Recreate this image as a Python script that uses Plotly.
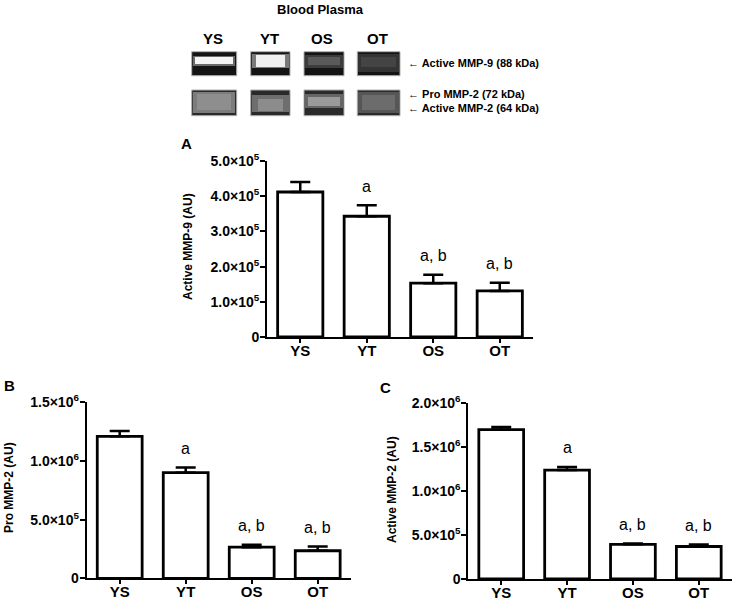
import plotly.graph_objects as go

W, H = 737, 601

groups = ["YS", "YT", "OS", "OT"]

# panel A - active MMP-9
mmp9_mean = [4.12e5, 3.43e5, 1.53e5, 1.31e5]
mmp9_sem = [0.28e5, 0.31e5, 0.24e5, 0.23e5]
# panel B - pro MMP-2
pro2_mean = [1.21e6, 0.90e6, 0.265e6, 0.235e6]
pro2_sem = [0.045e6, 0.045e6, 0.02e6, 0.037e6]
# panel C - active MMP-2
act2_mean = [1.70e6, 1.24e6, 0.395e6, 0.37e6]
act2_sem = [0.03e6, 0.035e6, 0.01e6, 0.022e6]

sig_labels = ["", "a", "a, b", "a, b"]

A_tickvals = [0, 1e5, 2e5, 3e5, 4e5, 5e5]
A_ticktext = ["0", "1.0×10<sup>5</sup>", "2.0×10<sup>5</sup>", "3.0×10<sup>5</sup>",
              "4.0×10<sup>5</sup>", "5.0×10<sup>5</sup>"]
B_tickvals = [0, 5e5, 1e6, 1.5e6]
B_ticktext = ["0", "5.0×10<sup>5</sup>", "1.0×10<sup>6</sup>", "1.5×10<sup>6</sup>"]
C_tickvals = [0, 5e5, 1e6, 1.5e6, 2e6]
C_ticktext = ["0", "5.0×10<sup>5</sup>", "1.0×10<sup>6</sup>", "1.5×10<sup>6</sup>",
              "2.0×10<sup>6</sup>"]

FONT = "Liberation Sans, Arial, sans-serif"


def px_x(p):
    return p / W


def px_y(p):
    return 1 - p / H


fig = go.Figure()

panels = [
    ("x", "y", mmp9_mean, mmp9_sem),
    ("x2", "y2", pro2_mean, pro2_sem),
    ("x3", "y3", act2_mean, act2_sem),
]

annotations = []
for xa, ya, mean, sem in panels:
    fig.add_trace(go.Bar(
        x=groups, y=mean, xaxis=xa, yaxis=ya, width=0.68,
        marker=dict(color="white", line=dict(color="black", width=2.8)),
        error_y=dict(type="data", array=sem, arrayminus=[0] * len(sem), symmetric=False,
                     color="black", thickness=2.5, width=10),
        showlegend=False,
    ))
    for g, m, s, lab in zip(groups, mean, sem, sig_labels):
        if lab:
            annotations.append(dict(x=g, y=m + s, xref=xa, yref=ya, text=lab, showarrow=False,
                                    yanchor="middle", yshift=19,
                                    font=dict(family=FONT, size=16, color="black")))


def yaxis_style(domain, rng, tv, tt):
    return dict(domain=domain, range=rng, tickvals=tv, ticktext=["<b>%s</b>" % t for t in tt],
                showline=True, linewidth=2, linecolor="black", ticks="outside", ticklen=5,
                tickwidth=2, tickcolor="black", showgrid=False, zeroline=False, automargin=False,
                ticklabelstandoff=-2,
                tickfont=dict(family=FONT, size=14, color="black"), fixedrange=True)


def xaxis_style(domain, anchor):
    return dict(domain=domain, anchor=anchor, range=[-0.5, 3.5], showline=True, linewidth=2,
                linecolor="black", ticks="outside", ticklen=4, tickwidth=1.5, tickcolor="black",
                showgrid=False, tickfont=dict(family=FONT, size=15, color="black"),
                ticklabelstandoff=-5, automargin=False, fixedrange=True,
                tickvals=groups, ticktext=["<b>%s</b>" % g for g in groups])


fig.update_layout(
    template="simple_white",
    width=W, height=H, margin=dict(l=0, r=0, t=0, b=0, pad=0, autoexpand=False),
    plot_bgcolor="white", paper_bgcolor="white",
    font=dict(family=FONT, color="black"),
    xaxis=xaxis_style([px_x(267), px_x(533)], "y"),
    yaxis=dict(anchor="x", **yaxis_style([px_y(337), px_y(161)], [0, 5e5], A_tickvals, A_ticktext)),
    xaxis2=xaxis_style([px_x(86.7), px_x(350.7)], "y2"),
    yaxis2=dict(anchor="x2", **yaxis_style([px_y(578.3), px_y(402.3)], [0, 1.5e6], B_tickvals, B_ticktext)),
    xaxis3=xaxis_style([px_x(468.3), px_x(731.7)], "y3"),
    yaxis3=dict(anchor="x3", **yaxis_style([px_y(579), px_y(403.3)], [0, 2e6], C_tickvals, C_ticktext)),
)


def txt(x, y, s, size, bold=True, angle=0, xanchor="center"):
    annotations.append(dict(x=px_x(x), y=px_y(y), xref="paper", yref="paper",
                            text="<b>%s</b>" % s if bold else s, showarrow=False,
                            textangle=angle, xanchor=xanchor, yanchor="middle",
                            font=dict(family=FONT, size=size, color="black")))


# axis titles and panel letters
txt(188, 247, "Active MMP-9 (AU)", 12, angle=-90)
txt(9, 488, "Pro MMP-2 (AU)", 12, angle=-90)
txt(392, 490, "Active MMP-2 (AU)", 12, angle=-90)
txt(186, 143, "A", 15)
txt(9, 385, "B", 15)
txt(386, 387, "C", 15)

# zymography header
txt(320, 10, "Blood Plasma", 13)
for g, cx in zip(groups, [213, 269, 322, 377]):
    txt(cx, 39, g, 15)
txt(406, 63, "← Active MMP-9 (88 kDa)", 11, xanchor="left")
txt(406, 94, "← Pro MMP-2 (72 kDa)", 11, xanchor="left")
txt(406, 108, "← Active MMP-2 (64 kDa)", 11, xanchor="left")

# gel lane pictures (decorative)
shapes = []


def rect(x0, y0, x1, y1, fill, line=None, opacity=1.0):
    shapes.append(dict(type="rect", xref="paper", yref="paper",
                       x0=px_x(x0), x1=px_x(x1), y0=px_y(y1), y1=px_y(y0),
                       fillcolor=fill, opacity=opacity,
                       line=dict(color=line or fill, width=1 if line else 0)))


lanes = [(191.7, 236.7), (250.7, 290), (304, 344), (357.3, 400)]
for x0, x1 in lanes:
    rect(x0, 51.7, x1, 75.7, "#141414", "#b0b0b0")
    rect(x0, 90, x1, 115.7, "#2a2a2a", "#b0b0b0")

# row 1 bands (active MMP-9)
rect(193, 56, 235, 66, "#6a6a6a")
rect(195, 57, 233, 64, "#f4f4f4")
rect(252, 54, 289, 68, "#7a7a7a")
rect(256, 55, 285, 67, "#f0f0f0")
rect(305, 55, 343, 68, "#3c3c3c")
rect(308, 57, 340, 65, "#5a5a5a")
rect(358, 54, 399, 72, "#343434")
rect(361, 57, 396, 67, "#444444")
# row 2 bands (pro / active MMP-2)
rect(193, 92, 235, 113, "#7c7c7c")
rect(197, 94, 231, 110, "#8e8e8e")
rect(252, 95, 289, 112, "#6e6e6e")
rect(258, 99, 283, 111, "#8c8c8c")
rect(305, 94, 343, 108, "#666666")
rect(308, 97, 340, 106, "#9a9a9a")
rect(358, 92, 399, 113, "#565656")
rect(362, 95, 395, 110, "#6c6c6c")

fig.update_layout(annotations=annotations, shapes=shapes)

# page body has a default 8px margin; drop it so the figure sits at the top-left corner
fig.write_html("out.html", config={"displayModeBar": False},
               post_script="document.body.style.margin='0px';")
